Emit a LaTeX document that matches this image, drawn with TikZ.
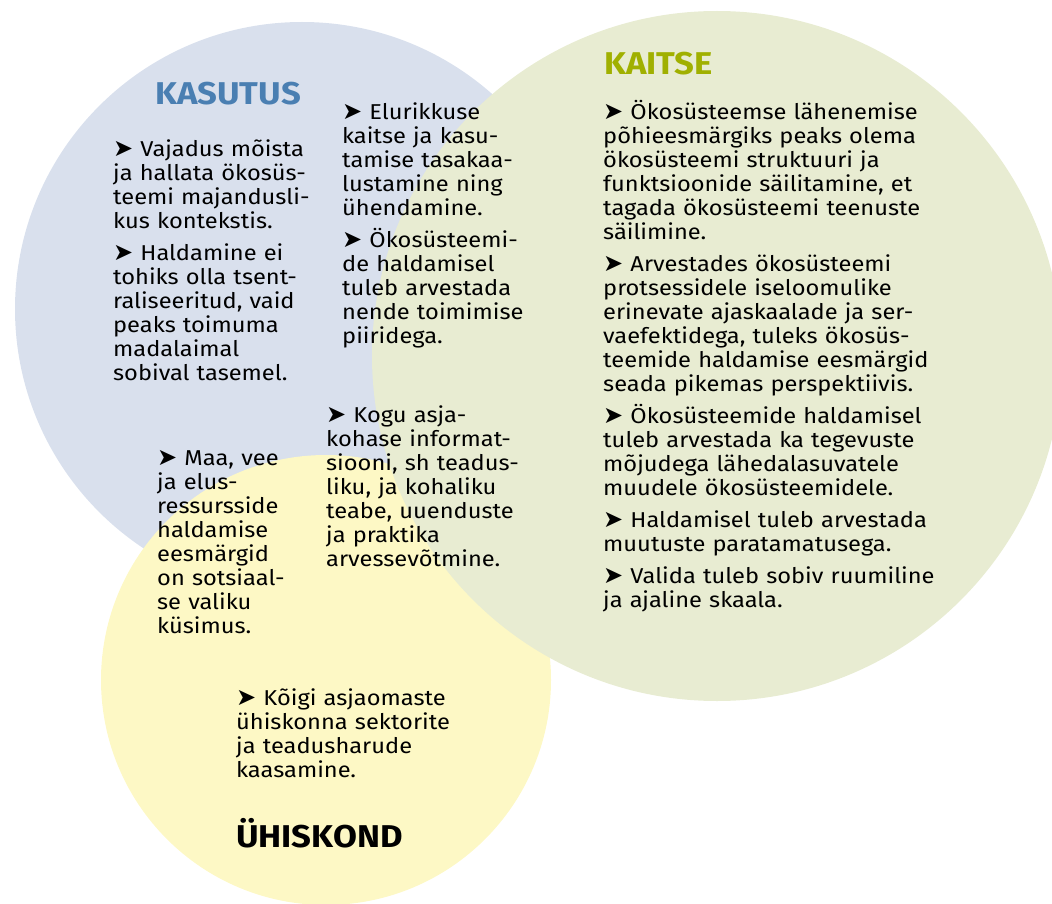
\documentclass[tikz,border=0pt]{standalone}
\usepackage{fontspec}
\setmainfont[FakeStretch=1.1]{Fira Sans}
\newfontfamily\arrowfont{DejaVu Sans}
\usetikzlibrary{positioning}

\definecolor{kasutusfill}{RGB}{217,224,237}
\definecolor{kaitsefill}{RGB}{232,236,210}
\definecolor{uhiskondfill}{RGB}{253,248,197}
\definecolor{kasutustext}{RGB}{74,127,178}
\definecolor{kaitsetext}{RGB}{160,176,0}

\newcommand{\itemarrow}{{\arrowfont\fontsize{24}{24}\selectfont ➤}\ }
\newcommand{\paraskip}{\\[8pt]}

\begin{document}
\begin{tikzpicture}[
        x=1pt, y=-1pt,
        font=\fontsize{21.5}{24}\selectfont,
        txt/.style={anchor=base west, inner sep=0pt, text width=12cm, align=left},
        head/.style={anchor=base west, inner sep=0pt, font=\fontsize{31.5}{36}\selectfont\bfseries}
    ]
    \useasboundingbox (0,0) rectangle (1052,904);

    % Circles
    \fill[kasutusfill] (302,309) circle [radius=287pt];
    \fill[uhiskondfill] (326,680) circle [radius=225pt];
    \fill[kaitsefill] (717,356) circle [radius=345pt];

    % Headings
    \node[head, text=kasutustext] (kasutus) at (155,105) {KASUTUS};
    \node[head, text=kaitsetext] (kaitse) at (604,75) {KAITSE};
    \node[head] (uhiskond) at (236,847) {ÜHISKOND};

    % Left: use
    \node[txt] (vajadus) at (113,157) {\itemarrow Vajadus mõista\\ ja hallata ökosüs-\\ teemi majandusli-\\ kus kontekstis.\paraskip
        \itemarrow Haldamine ei\\ tohiks olla tsent-\\ raliseeritud, vaid\\ peaks toimuma\\ madalaimal\\ sobival tasemel.};

    % Middle: use and protection
    \node[txt] (elurikkus) at (342,120) {\itemarrow Elurikkuse\\ kaitse ja kasu-\\ tamise tasakaa-\\ lustamine ning\\ ühendamine.\paraskip
        \itemarrow Ökosüsteemi-\\ de haldamisel\\ tuleb arvestada\\ nende toimimise\\ piiridega.};

    % Centre: all three
    \node[txt] (info) at (326,422) {\itemarrow Kogu asja-\\ kohase informat-\\ siooni, sh teadus-\\ liku, ja kohaliku\\ teabe, uuenduste\\ ja praktika\\ arvessevõtmine.};

    % Use and society
    \node[txt] (ressurss) at (157,465) {\itemarrow Maa, vee\\ ja elus-\\ ressursside\\ haldamise\\ eesmärgid\\ on sotsiaal-\\ se valiku\\ küsimus.};

    % Bottom: society
    \node[txt] (sektorid) at (236,705) {\itemarrow Kõigi asjaomaste\\ ühiskonna sektorite\\ ja teadusharude\\ kaasamine.};

    % Right: protection
    \node[txt] (lahenemine) at (603,120) {\itemarrow Ökosüsteemse lähenemise\\ põhieesmärgiks peaks olema\\ ökosüsteemi struktuuri ja\\ funktsioonide säilitamine, et\\ tagada ökosüsteemi teenuste\\ säilimine.\paraskip
        \itemarrow Arvestades ökosüsteemi\\ protsessidele iseloomulike\\ erinevate ajaskaalade ja ser-\\ vaefektidega, tuleks ökosüs-\\ teemide haldamise eesmärgid\\ seada pikemas perspektiivis.\paraskip
        \itemarrow Ökosüsteemide haldamisel\\ tuleb arvestada ka tegevuste\\ mõjudega lähedalasuvatele\\ muudele ökosüsteemidele.\paraskip
        \itemarrow Haldamisel tuleb arvestada\\ muutuste paratamatusega.\paraskip
        \itemarrow Valida tuleb sobiv ruumiline\\ ja ajaline skaala.};

\end{tikzpicture}
\end{document}
